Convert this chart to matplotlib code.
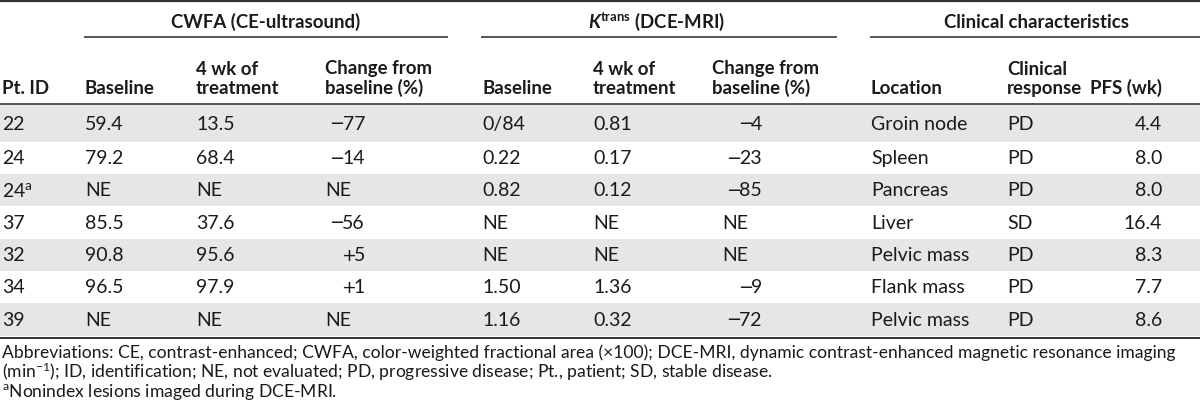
import matplotlib
matplotlib.use('Agg')
import matplotlib.pyplot as plt

plt.rcParams['font.family'] = ['Lato', 'DejaVu Sans']
plt.rcParams['mathtext.fontset'] = 'custom'
plt.rcParams['mathtext.rm'] = 'Lato'
plt.rcParams['mathtext.it'] = 'Lato:italic'
plt.rcParams['mathtext.bf'] = 'Lato:bold'
plt.rcParams['mathtext.bfit'] = 'Lato:bold:italic'

# table contents
pt_ids = ['22', '24', '24$^{\\mathrm{a}}$', '37', '32', '34', '39']
cwfa_base = ['59.4', '79.2', 'NE', '85.5', '90.8', '96.5', 'NE']
cwfa_4wk = ['13.5', '68.4', 'NE', '37.6', '95.6', '97.9', 'NE']
cwfa_change = ['\u221277', '\u221214', 'NE', '\u221256', '+5', '+1', 'NE']
ktrans_base = ['0/84', '0.22', '0.82', 'NE', 'NE', '1.50', '1.16']
ktrans_4wk = ['0.81', '0.17', '0.12', 'NE', 'NE', '1.36', '0.32']
ktrans_change = ['\u22124', '\u221223', '\u221285', 'NE', 'NE', '\u22129', '\u221272']
location = ['Groin node', 'Spleen', 'Pancreas', 'Liver', 'Pelvic mass', 'Flank mass', 'Pelvic mass']
response = ['PD', 'PD', 'PD', 'SD', 'PD', 'PD', 'PD']
pfs = ['4.4', '8.0', '8.0', '16.4', '8.3', '7.7', '8.6']

groups = ['CWFA (CE-ultrasound)', '$\\mathbfit{K}^{\\mathbf{trans}}$ (DCE-MRI)', 'Clinical characteristics']
headers = ['Pt. ID', 'Baseline', '4 wk of\ntreatment', 'Change from\nbaseline (%)',
           'Baseline', '4 wk of\ntreatment', 'Change from\nbaseline (%)',
           'Location', 'Clinical\nresponse', 'PFS (wk)']
notes = ['Abbreviations: CE, contrast-enhanced; CWFA, color-weighted fractional area (\u00d7100); DCE-MRI, dynamic contrast-enhanced magnetic resonance imaging',
         '(min$^{\\mathrm{\u22121}}$); ID, identification; NE, not evaluated; PD, progressive disease; Pt., patient; SD, stable disease.',
         '$^{\\mathrm{a}}$Nonindex lesions imaged during DCE-MRI.']

fig = plt.figure(figsize=(12, 4.1), dpi=100)
ax = fig.add_axes([0, 0, 1, 1])
ax.set_xlim(0, 1200)
ax.set_ylim(410, 0)
ax.axis('off')

fs = 14
hfs = 13.4
txt = '#1a1a1a'
edges = [106, 143, 175, 207, 239.5, 272, 304, 337]
for i in range(7):
    if i % 2 == 0:
        ax.axhspan(edges[i], edges[i + 1], color='#e6e6e6', lw=0)

# rules
ax.plot([0, 1200], [1.5, 1.5], color='#333333', lw=1.6)
ax.plot([0, 1200], [105, 105], color='#555555', lw=1.4)
ax.plot([0, 1200], [339, 339], color='#333333', lw=1.4)
for x0, x1 in [(85, 447), (482, 836), (871, 1200)]:
    ax.plot([x0, x1], [38, 38], color='#555555', lw=1.4)

# group headings
for g, xc in zip(groups, [266, 657, 1036]):
    ax.text(xc, 22, g, ha='center', va='center', fontsize=hfs, fontweight='bold', color=txt)

# column headings
col_x = [2, 85, 196, 325, 482, 593, 712, 871, 1007, 1090]
for h, x in zip(headers, col_x):
    ax.text(x, 97, h, ha='left', va='bottom', fontsize=hfs, fontweight='bold',
            color=txt, linespacing=1.15)


def change_cell(val, x_left, x_right, y):
    # NE left aligned, signed numbers right aligned with a wide sign
    if val == 'NE':
        ax.text(x_left, y, 'NE', ha='left', va='center', fontsize=fs, color=txt)
        return
    num = ax.text(x_right, y, val[1:], ha='right', va='center', fontsize=fs, color=txt)
    ax.annotate(val[0], xy=(0, 0.5), xycoords=num, xytext=(1.5, 0),
                textcoords='offset points', ha='right', va='center',
                fontsize=fs - 1, color=txt, family='DejaVu Sans')


# body
mids = [(edges[i] + edges[i + 1]) / 2 for i in range(7)]
for i, y in enumerate(mids):
    ax.text(2, y, pt_ids[i], ha='left', va='center', fontsize=fs, color=txt)
    ax.text(85, y, cwfa_base[i], ha='left', va='center', fontsize=fs, color=txt)
    ax.text(196, y, cwfa_4wk[i], ha='left', va='center', fontsize=fs, color=txt)
    change_cell(cwfa_change[i], 325, 365, y)
    ax.text(482, y, ktrans_base[i], ha='left', va='center', fontsize=fs, color=txt)
    ax.text(593, y, ktrans_4wk[i], ha='left', va='center', fontsize=fs, color=txt)
    change_cell(ktrans_change[i], 722, 762, y)
    ax.text(871, y, location[i], ha='left', va='center', fontsize=fs, color=txt)
    ax.text(1007, y, response[i], ha='left', va='center', fontsize=fs, color=txt)
    ax.text(1162, y, pfs[i], ha='right', va='center', fontsize=fs, color=txt)

# footnotes
for n, y in zip(notes, [353, 372, 392]):
    ax.text(2, y, n, ha='left', va='center', fontsize=12.6, color=txt)

fig.savefig('out.png', dpi=100)
